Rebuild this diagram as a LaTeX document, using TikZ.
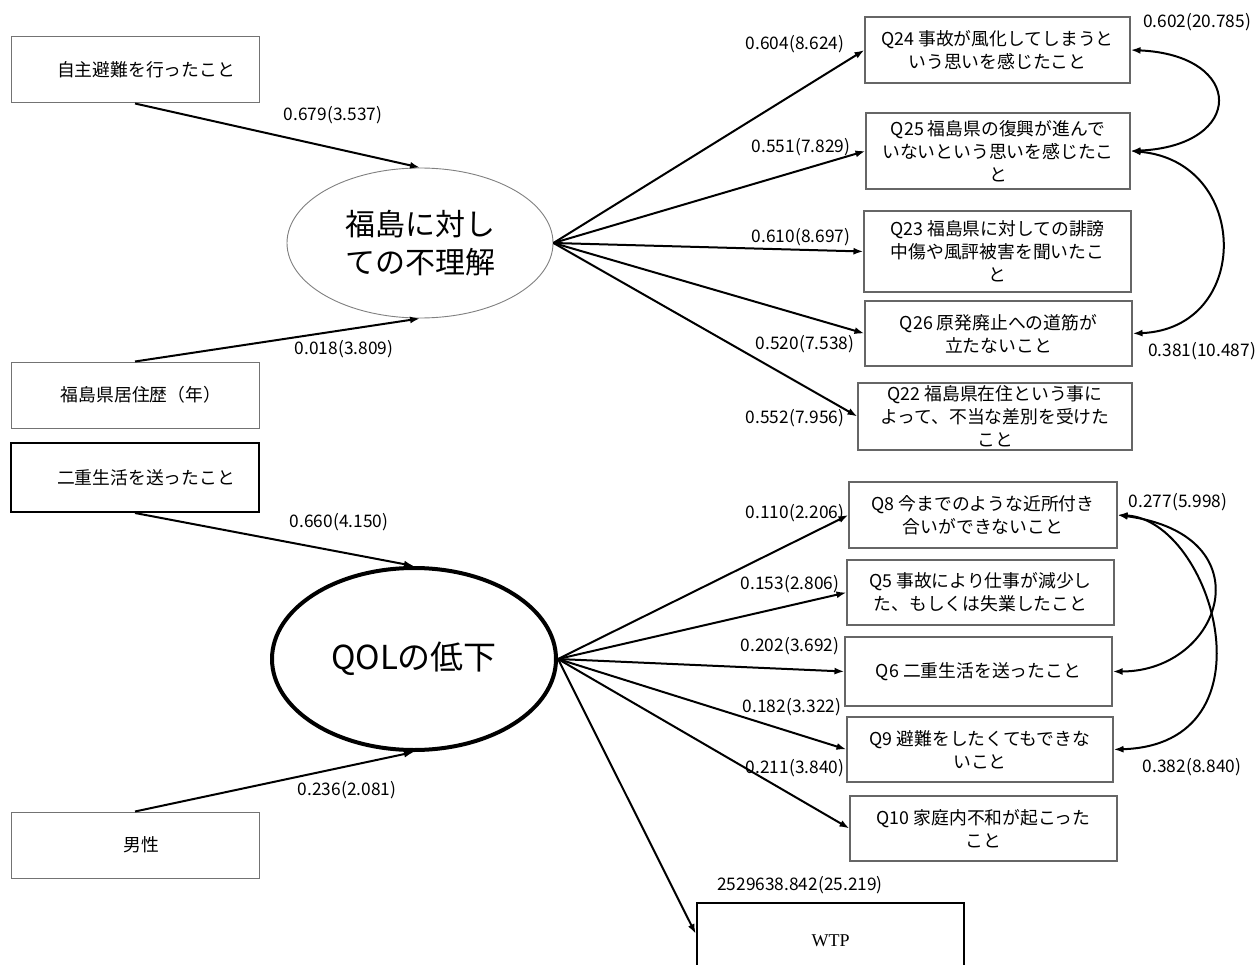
\documentclass[tikz,border=0pt]{standalone}
\usepackage{fontspec}
\setmainfont{Noto Sans CJK JP}
\newfontfamily\wtpfont{Liberation Serif}
\usetikzlibrary{arrows.meta,shapes.geometric}
\begin{document}
\begin{tikzpicture}[x=1pt,y=-1pt,
  lbox/.style={draw=black!55, line width=1pt, inner sep=0pt, align=center,
    minimum width=248pt, minimum height=66pt, font=\fontsize{17.8}{22}\selectfont},
  rbox/.style={draw=black!60, line width=1.1pt, inner sep=0pt, align=center,
    font=\fontsize{17.8}{23}\selectfont},
  num/.style={inner sep=0pt, font=\fontsize{17.3}{20}\selectfont},
  arr/.style={line width=2pt, -{Latex[length=10pt,width=7pt]}},
  cov/.style={line width=2pt, {Latex[length=10pt,width=7pt]}-{Latex[length=10pt,width=7pt]}}
]
\useasboundingbox (0,0) rectangle (1255,965);
\fill[white] (0,0) rectangle (1255,965);

% left boxes
\node[lbox] (lb1) at (135,70) {\hspace*{22pt}自主避難を行ったこと};
\node[lbox] (lb2) at (135,395) {\hspace*{12pt}福島県居住歴（年）};
\node[lbox, draw=black, line width=2pt, minimum height=69pt] (lb3) at (135,477.5) {\hspace*{22pt}二重生活を送ったこと};
\node[lbox] (lb4) at (135,845) {\hspace*{12pt}男性};

% latent variables
\node[ellipse, draw=black!50, line width=0.9pt, minimum width=266pt, minimum height=150pt,
  inner sep=0pt, font=\fontsize{30}{38}\selectfont] (E1) at (420,243) {\raisebox{-5pt}{\parbox{5em}{\centering 福島に対し\\ての不理解}}};
\node[ellipse, draw=black, line width=4pt, minimum width=284pt, minimum height=182pt,
  inner sep=0pt, font=\fontsize{33}{38}\selectfont] (E2) at (414,659) {QOLの低下};

% right boxes, upper
\node[rbox, minimum width=265pt, minimum height=66pt] (q24) at (997.5,50) {Q24 事故が風化してしまうと\\いう思いを感じたこと};
\node[rbox, minimum width=264pt, minimum height=76pt] (q25) at (998,151) {Q25 福島県の復興が進んで\\いないという思いを感じたこ\\と};
\node[rbox, minimum width=267pt, minimum height=81pt] (q23) at (997.5,251.5) {Q23 福島県に対しての誹謗\\中傷や風評被害を聞いたこ\\と};
\node[rbox, minimum width=267pt, minimum height=65pt] (q26) at (998.5,333.5) {Q26 原発廃止への道筋が\\立たないこと};
\node[rbox, minimum width=274pt, minimum height=67pt] (q22) at (995,416.5) {Q22 福島県在住という事に\\よって、不当な差別を受けた\\こと};

% right boxes, lower
\node[rbox, minimum width=268pt, minimum height=66pt] (q8) at (983,515) {Q8 今までのような近所付き\\合いができないこと};
\node[rbox, minimum width=267pt, minimum height=65pt] (q5) at (980.5,592.5) {Q5 事故により仕事が減少し\\た、もしくは失業したこと};
\node[rbox, minimum width=267pt, minimum height=69pt] (q6) at (978.5,671.5) {Q6 二重生活を送ったこと};
\node[rbox, minimum width=266pt, minimum height=65pt] (q9) at (980,749.5) {Q9 避難をしたくてもできな\\いこと};
\node[rbox, minimum width=267pt, minimum height=65pt] (q10) at (983.5,828.5) {Q10 家庭内不和が起こった\\こと};
\node[draw=black, line width=2.5pt, minimum width=267pt, minimum height=76pt, inner sep=0pt,
  font=\wtpfont\fontsize{18}{20}\selectfont] (wtp) at (830.5,941) {WTP};

% paths into latent variables
\draw[arr] (lb1.south) -- (E1.north);
\draw[arr] (lb2.north) -- (E1.south);
\draw[arr] (lb3.south) -- (E2.north);
\draw[arr] (lb4.north) -- (E2.south);

% loadings upper
\draw[arr] (E1.east) -- (q24.west);
\draw[arr] (E1.east) -- (q25.west);
\draw[arr] (E1.east) -- (q23.west);
\draw[arr] (E1.east) -- (q26.west);
\draw[arr] (E1.east) -- (q22.west);

% loadings lower
\draw[arr] (E2.east) -- (q8.west);
\draw[arr] (E2.east) -- (q5.west);
\draw[arr] (E2.east) -- (q6.west);
\draw[arr] (E2.east) -- (q9.west);
\draw[arr] (E2.east) -- (q10.west);
\draw[arr] (E2.east) -- ([yshift=7pt]wtp.west);

% covariances
\draw[cov] (q24.east) .. controls +(115,5) and +(115,-5) .. (q25.east);
\draw[cov] (q25.east) .. controls +(120,10) and +(120,-5) .. (q26.east);
\draw[cov] (q8.east) .. controls +(150,20) and +(110,0) .. (q6.east);
\draw[cov] (q8.east) .. controls +(95,5) and +(165,-5) .. (q9.east);

% labels
\node[num] (n1) at (333,115) {0.679(3.537)};
\node[num] (n2) at (344,349) {0.018(3.809)};
\node[num] (n3) at (339,522) {0.660(4.150)};
\node[num] (n4) at (347,790) {0.236(2.081)};
\node[num] (n5) at (795,44) {0.604(8.624)};
\node[num] (n6) at (801,147) {0.551(7.829)};
\node[num] (n7) at (801,237) {0.610(8.697)};
\node[num] (n8) at (805,344) {0.520(7.538)};
\node[num] (n9) at (795,418) {0.552(7.956)};
\node[num] (n10) at (1197,22) {0.602(20.785)};
\node[num] (n11) at (1202,351) {0.381(10.487)};
\node[num] (n12) at (795,513) {0.110(2.206)};
\node[num] (n13) at (790,584) {0.153(2.806)};
\node[num] (n14) at (790,646) {0.202(3.692)};
\node[num] (n15) at (792,707) {0.182(3.322)};
\node[num] (n16) at (795,768) {0.211(3.840)};
\node[num] (n17) at (1178,502) {0.277(5.998)};
\node[num] (n18) at (1192,767) {0.382(8.840)};
\node[num] (n19) at (800,885) {2529638.842(25.219)};
\end{tikzpicture}
\end{document}
